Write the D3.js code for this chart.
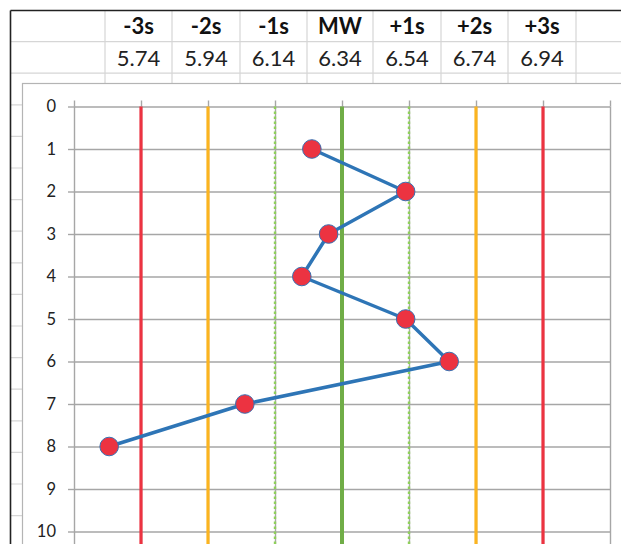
<!DOCTYPE html>
<html><head><meta charset="utf-8">
<script src="https://cdn.jsdelivr.net/npm/d3@7/dist/d3.min.js"></script>
<style>
html,body{margin:0;padding:0;background:#fff;overflow:hidden}
svg{display:block}
text{font-family:Lato,"Open Sans",sans-serif}
</style></head>
<body>
<svg id="c" width="621" height="544"></svg>
<script>
// ---- data ----
const sigmaLabels = ["-3s","-2s","-1s","MW","+1s","+2s","+3s"];
const sigmaValues = [5.74,5.94,6.14,6.34,6.54,6.74,6.94];
const sampleNo = [1,2,3,4,5,6,7,8];
const sampleValues = [6.25,6.53,6.30,6.22,6.53,6.66,6.05,5.645];
const yTickValues = [0,1,2,3,4,5,6,7,8,9,10];
const xTickValues = [5.54,5.74,5.94,6.14,6.34,6.54,6.74,6.94,7.14];

// ---- styles ----
const lineStyles = [
  {c:"#ec3341", w:3.2, d:null},
  {c:"#fbb420", w:3.2, d:null},
  {c:"#8fd05a", w:2.4, d:"2.5,2.5"},
  {c:"#70ad47", w:4, d:null},
  {c:"#8fd05a", w:2.4, d:"2.5,2.5"},
  {c:"#fbb420", w:3.2, d:null},
  {c:"#ec3341", w:3.2, d:null}
];

const svg = d3.select("#c");
const W = 621, H = 544;

// ---- spreadsheet background ----
const cellGrid = "#d6d6d6";
const rowH = 31.6, top0 = 10;
const colX = [105,172,240,307,373,441,508,576];
const ss = svg.append("g");
d3.range(1, 18).forEach(k => {
  const yy = top0 + k*rowH;
  ss.append("line").attr("x1",10).attr("x2",W).attr("y1",yy).attr("y2",yy)
    .attr("stroke",cellGrid).attr("stroke-width",1.2);
});
colX.forEach(xx => {
  ss.append("line").attr("x1",xx).attr("x2",xx).attr("y1",top0).attr("y2",H)
    .attr("stroke",cellGrid).attr("stroke-width",1.2);
});
ss.append("line").attr("x1",10.5).attr("x2",W).attr("y1",10.5).attr("y2",10.5).attr("stroke","#222").attr("stroke-width",1.6);
ss.append("line").attr("x1",10.5).attr("x2",10.5).attr("y1",10.5).attr("y2",H).attr("stroke","#222").attr("stroke-width",1.6);

const colCenters = colX.slice(0,-1).map((xx,i)=> (xx+colX[i+1])/2);
ss.selectAll("text.h").data(sigmaLabels).join("text").attr("class","h")
  .attr("x",(d,i)=>colCenters[i]).attr("y",33.5).attr("text-anchor","middle")
  .attr("font-size",22).attr("font-weight","bold").attr("fill","#111").text(d=>d);
ss.selectAll("text.v").data(sigmaValues).join("text").attr("class","v")
  .attr("x",(d,i)=>colCenters[i]).attr("y",65.5).attr("text-anchor","middle")
  .attr("font-size",22).attr("fill","#222").text(d=>d.toFixed(2));

// ---- chart frame ----
svg.append("rect").attr("x",22.5).attr("y",83.5).attr("width",W).attr("height",H)
  .attr("fill","#fff").attr("stroke","#b4b4b4").attr("stroke-width",1.2);

// ---- scales ----
const x = d3.scaleLinear().domain([5.54, 7.14]).range([74, 610]);
const y = d3.scaleLinear().domain([0, 12]).range([106.5, 106.5 + 12*42.5]);

const plot = svg.append("g");
const gridColor = "#a6a6a6";

const ya = plot.append("g").attr("transform","translate(74,0)")
  .call(d3.axisLeft(y).tickValues(yTickValues).tickSizeInner(6).tickSizeOuter(0).tickPadding(12).tickFormat(d3.format("d")));
ya.select(".domain").remove();
ya.selectAll(".tick line").attr("stroke",gridColor).attr("stroke-width",1.4);
ya.selectAll(".tick text").attr("font-size",16.5).attr("fill","#222").attr("font-family","Lato,sans-serif");
const yg = plot.append("g").attr("transform","translate(74,0)")
  .call(d3.axisLeft(y).tickValues(yTickValues.concat([11,12])).tickSize(-(610-74)).tickFormat(""));
yg.select(".domain").remove();
yg.selectAll(".tick line").attr("stroke",gridColor).attr("stroke-width",1.4);

const xa = plot.append("g").attr("transform","translate(0,106.5)")
  .call(d3.axisTop(x).tickValues(xTickValues).tickSizeInner(6).tickSizeOuter(0).tickFormat(""));
xa.select(".domain").remove();
xa.selectAll(".tick line").attr("stroke",gridColor).attr("stroke-width",1.4);
const xg = plot.append("g").attr("transform","translate(0,106.5)")
  .call(d3.axisTop(x).tickValues(xTickValues).tickSize(-(H)).tickFormat(""));
xg.select(".domain").remove();
xg.selectAll(".tick line").attr("stroke",gridColor).attr("stroke-width",1.4);

// ---- sigma lines ----
plot.selectAll("line.sig").data(sigmaValues).join("line").attr("class","sig")
  .attr("x1",d=>x(d)).attr("x2",d=>x(d)).attr("y1",y(0)).attr("y2",H+10)
  .attr("stroke",(d,i)=>lineStyles[i].c).attr("stroke-width",(d,i)=>lineStyles[i].w)
  .attr("stroke-dasharray",(d,i)=>lineStyles[i].d);

// ---- data series ----
const pts = sampleNo.map((n,i)=>({n, v: sampleValues[i]}));
plot.append("path").datum(pts)
  .attr("d", d3.line().x(d=>x(d.v)).y(d=>y(d.n)))
  .attr("fill","none").attr("stroke","#2e75b6").attr("stroke-width",3.5).attr("stroke-linejoin","round");
plot.selectAll("circle.m").data(pts).join("circle").attr("class","m")
  .attr("cx",d=>x(d.v)).attr("cy",d=>y(d.n)).attr("r",9.3)
  .attr("fill","#ec3341").attr("stroke","#3a6fb0").attr("stroke-width",1);
</script>
</body></html>
